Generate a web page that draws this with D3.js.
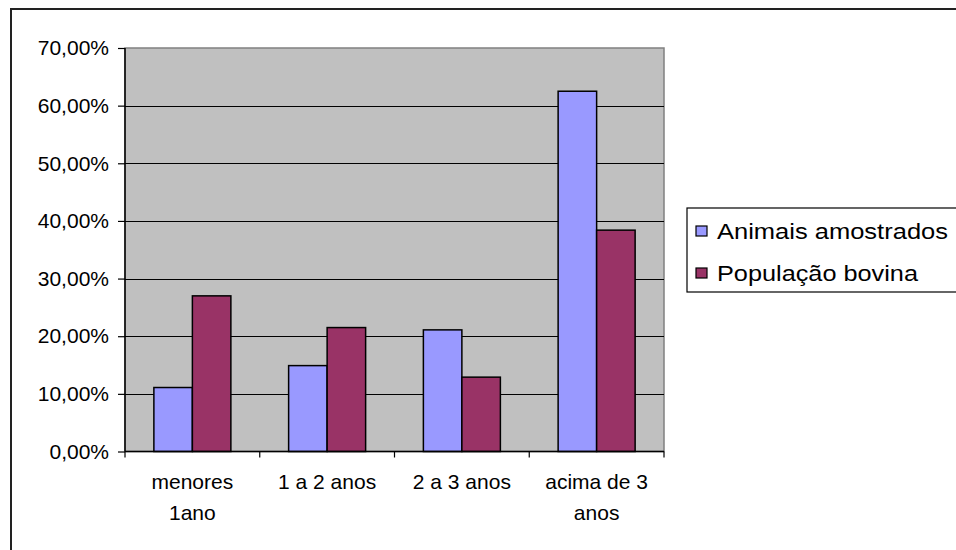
<!DOCTYPE html>
<html>
<head>
<meta charset="utf-8">
<script src="https://cdn.jsdelivr.net/npm/d3@7"></script>
<style>
  html, body { margin: 0; padding: 0; background: #fff; }
  svg { display: block; }
  text { font-family: "Liberation Sans", Arial, sans-serif; fill: #000; }
</style>
</head>
<body>
<svg id="chart" width="956" height="550"></svg>
<script>
// Age groups of cattle (two lines where the label wraps)
const categories = [["menores", "1ano"], ["1 a 2 anos"], ["2 a 3 anos"], ["acima de 3", "anos"]];
const seriesNames = ["Animais amostrados", "População bovina"];
const sampled = [0.111, 0.149, 0.211, 0.625];
const population = [0.270, 0.215, 0.129, 0.384];
const yTicks = [0, 0.1, 0.2, 0.3, 0.4, 0.5, 0.6, 0.7];
const colors = ["#9999ff", "#993366"];

const svg = d3.select("#chart");
const plot = { left: 125, top: 48, right: 664, bottom: 451.5 };

// outer frame
svg.append("rect")
  .attr("x", 11).attr("y", 9).attr("width", 1000).attr("height", 600)
  .attr("fill", "#fff").attr("stroke", "#222").attr("stroke-width", 2);

const x = d3.scaleBand()
  .domain(d3.range(categories.length))
  .range([plot.left, plot.right])
  .paddingInner(0).paddingOuter(0);

const y = d3.scaleLinear().domain([0, 0.7]).range([plot.bottom, plot.top]);

// plot background
svg.append("rect")
  .attr("x", plot.left).attr("y", plot.top)
  .attr("width", plot.right - plot.left).attr("height", plot.bottom - plot.top)
  .attr("fill", "#c0c0c0").attr("stroke", "#808080").attr("stroke-width", 1.5);

// gridlines
svg.append("g").selectAll("line")
  .data(yTicks.filter(d => d > 0 && d < 0.7))
  .join("line")
  .attr("x1", plot.left).attr("x2", plot.right)
  .attr("y1", d => Math.round(y(d)) + 0.5).attr("y2", d => Math.round(y(d)) + 0.5)
  .attr("stroke", "#000").attr("stroke-width", 1);

// bars: gap width 150% of bar width
const series = [sampled, population];
const barW = x.bandwidth() / 3.5;
const groupOffset = (x.bandwidth() - 2 * barW) / 2;

series.forEach((vals, si) => {
  svg.append("g").selectAll("rect")
    .data(vals)
    .join("rect")
    .attr("x", (d, i) => x(i) + groupOffset + si * barW)
    .attr("y", d => y(d))
    .attr("width", barW)
    .attr("height", d => y(0) - y(d))
    .attr("fill", colors[si])
    .attr("stroke", "#000").attr("stroke-width", 1.5);
});

// y axis
const yAxis = d3.axisLeft(y)
  .tickValues(yTicks)
  .tickSize(7)
  .tickPadding(9)
  .tickFormat(d => (d * 100).toFixed(2).replace(".", ",") + "%");
const gy = svg.append("g").attr("transform", `translate(${plot.left},0)`).call(yAxis);
gy.select(".domain").attr("stroke", "#000").attr("stroke-width", 1.5).attr("d", `M0,${plot.top}V${plot.bottom}`);
gy.selectAll(".tick line").attr("stroke", "#000").attr("stroke-width", 1.2);
gy.selectAll(".tick text").attr("font-size", 21).attr("font-family", "Liberation Sans, Arial, sans-serif").attr("fill", "#000");

// x axis line with category separators
const gx = svg.append("g");
gx.append("line")
  .attr("x1", plot.left).attr("x2", plot.right)
  .attr("y1", plot.bottom).attr("y2", plot.bottom)
  .attr("stroke", "#000").attr("stroke-width", 1.5);
gx.selectAll("line.sep")
  .data(d3.range(categories.length + 1))
  .join("line")
  .attr("class", "sep")
  .attr("x1", i => i < categories.length ? x(i) : plot.right)
  .attr("x2", i => i < categories.length ? x(i) : plot.right)
  .attr("y1", plot.bottom).attr("y2", plot.bottom + 6)
  .attr("stroke", "#000").attr("stroke-width", 1.2);

gx.selectAll("text.cat")
  .data(categories)
  .join("text")
  .attr("class", "cat")
  .attr("text-anchor", "middle")
  .attr("font-size", 21)
  .attr("x", (d, i) => x(i) + x.bandwidth() / 2)
  .attr("y", 489)
  .selectAll("tspan")
  .data(d => d)
  .join("tspan")
  .attr("x", function () { return d3.select(this.parentNode).attr("x"); })
  .attr("dy", (d, j) => j === 0 ? 0 : 31)
  .text(d => d);

// legend
const legend = svg.append("g");
legend.append("rect")
  .attr("x", 687).attr("y", 208).attr("width", 400).attr("height", 84)
  .attr("fill", "#fff").attr("stroke", "#000").attr("stroke-width", 1.2);
const li = legend.selectAll("g.item")
  .data(seriesNames)
  .join("g")
  .attr("class", "item")
  .attr("transform", (d, i) => `translate(0,${231 + i * 42})`);
li.append("rect")
  .attr("x", 696).attr("y", -5).attr("width", 11).attr("height", 10)
  .attr("fill", (d, i) => colors[i]).attr("stroke", "#000").attr("stroke-width", 1.2);
li.append("text")
  .attr("x", 717).attr("y", 7.5)
  .attr("font-size", 21.5)
  .attr("textLength", (d, i) => i === 0 ? 231 : 201)
  .attr("lengthAdjust", "spacingAndGlyphs")
  .text(d => d);
</script>
</body>
</html>
